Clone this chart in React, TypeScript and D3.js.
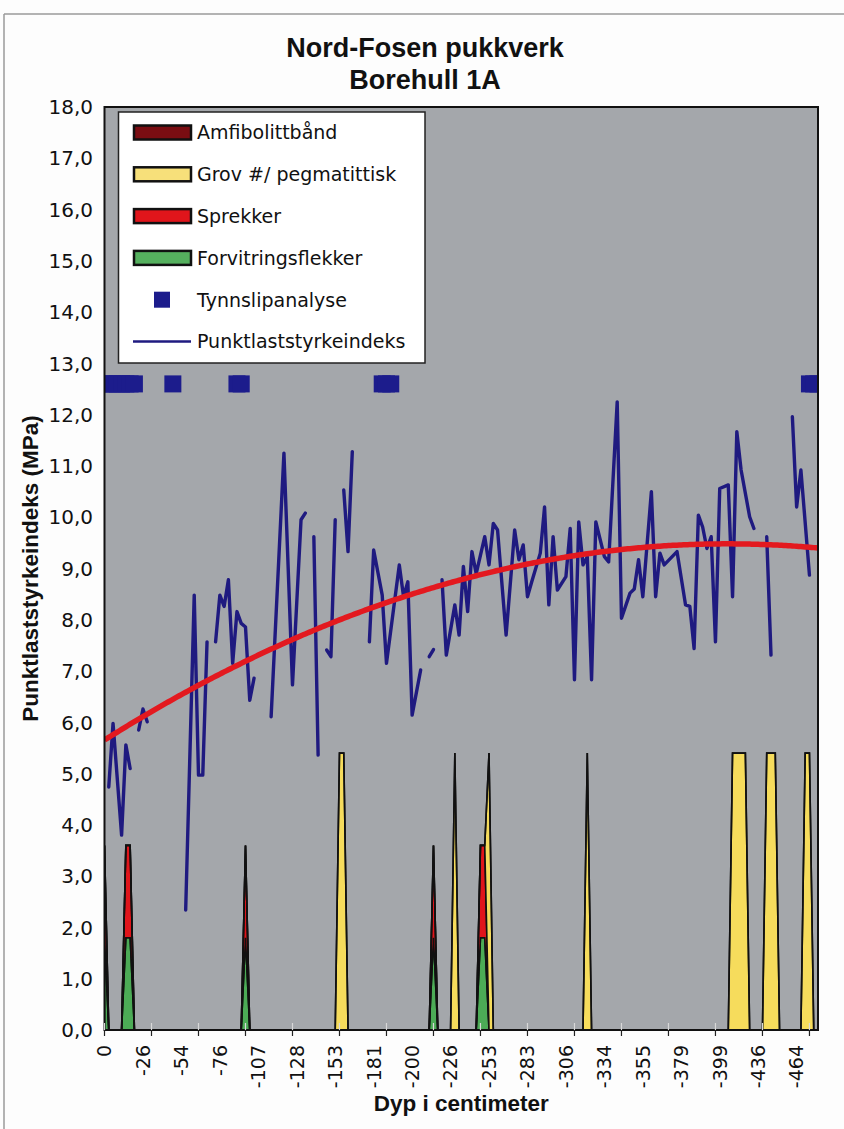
import React from "react";
import * as d3 from "d3";

// ---------- data ----------
const titleLines = ["Nord-Fosen pukkverk", "Borehull 1A"];
const yAxisTitle = "Punktlaststyrkeindeks (MPa)";
const xAxisTitle = "Dyp i centimeter";

const sampleCount = 168; // categories on the x axis
const depthLabels = ["0", "-26", "-54", "-76", "-107", "-128", "-153", "-181", "-200", "-226", "-253", "-283", "-306", "-334", "-355", "-379", "-399", "-436", "-464"];
const labelEvery = 9;
const tickEvery = 11;
const yTickValues = [0, 1, 2, 3, 4, 5, 6, 7, 8, 9, 10, 11, 12, 13, 14, 15, 16, 17, 18];

// stacked area series: [sample index, value]
const forvitringsflekker: [number, number][] = [[0, 1.8], [5, 1.8], [6, 1.8], [33, 1.8], [77, 1.8], [88, 1.8], [89, 1.8]];
const sprekker: [number, number][] = [[0, 1.8], [5, 1.8], [6, 1.8], [33, 1.8], [77, 1.8], [88, 1.8], [89, 1.8]];
const grovPegmatittisk: [number, number][] = [[55, 5.4], [56, 5.4], [82, 5.4], [90, 5.4], [113, 5.4], [147, 5.4], [148, 5.4], [149, 5.4], [150, 5.4], [155, 5.4], [156, 5.4], [157, 5.4], [164, 5.4], [165, 5.4]];
const amfibolittband: [number, number][] = [];

// thin-section markers
const tynnslipIdx = [0, 1, 2, 3, 4, 5, 6, 7, 16, 31, 32, 65, 66, 67, 165, 166, 167];
const tynnslipLevel = 12.6;

// point load strength index: [sample index, MPa], null = gap
const punktlast: ([number, number] | null)[] = [
  [1, 4.74], [2, 5.98], [4, 3.8], [5, 5.56], [6, 5.1], null,
  [8, 5.85], [9, 6.26], [10, 6.01], null,
  [19, 2.34], [21, 8.48], [22, 4.97], [23, 4.97], [24, 7.57], null,
  [26, 7.57], [27, 8.48], [28, 8.26], [29, 8.78], [30, 7.15], [31, 8.16], [32, 7.93], [33, 7.86], [34, 6.43], [35, 6.86], null,
  [39, 6.11], [42, 11.25], [44, 6.73], [46, 9.95], [47, 10.08], null,
  [49, 9.62], [50, 5.36], null,
  [52, 7.41], [53, 7.28], [54, 9.95], null,
  [56, 10.53], [57, 9.33], [58, 11.28], null,
  [62, 7.57], [63, 9.36], [65, 8.48], [66, 7.15], [69, 9.07], [70, 8.45], [71, 8.74], [72, 6.14], [74, 7.02], null,
  [76, 7.28], [77, 7.42], null,
  [79, 8.78], [80, 7.31], [82, 8.29], [83, 7.7], [84, 9.04], [85, 8.16], [86, 9.33], [87, 8.9], [89, 9.62], [90, 9.07],
  [91, 9.88], [92, 9.75], [94, 7.7], [96, 9.75], [97, 9.17], [98, 9.46], [99, 8.45], [100, 8.74], [102, 9.3], [103, 10.2],
  [104, 8.29], [105, 9.62], [106, 8.58], [108, 8.84], [109, 9.78], [110, 6.83], [111, 9.91], [112, 9.07], [113, 9.23], [114, 6.83],
  [115, 9.91], [117, 9.23], [118, 9.13], [120, 12.25], [121, 8.03], [123, 8.52], [124, 8.6], [125, 9.17], [126, 8.45], [128, 10.5],
  [129, 8.45], [130, 9.3], [131, 9.07], [134, 9.33], [136, 8.29], [137, 8.26], [138, 7.44], [139, 10.04], [140, 9.81], [141, 9.39],
  [142, 9.62], [143, 7.57], [144, 10.56], [146, 10.63], [147, 8.45], [148, 11.67], [149, 10.92], [151, 10.01], [152, 9.78], null,
  [155, 9.62], [156, 7.31], null,
  [161, 11.96], [162, 10.2], [163, 10.92], [165, 8.87],
];

const legendItems = [
  { label: "Amfibolittbånd", kind: "area", color: "#7a0d12" },
  { label: "Grov #/ pegmatittisk", kind: "area", color: "#f7e07a" },
  { label: "Sprekker", kind: "area", color: "#e0151b" },
  { label: "Forvitringsflekker", kind: "area", color: "#55b05e" },
  { label: "Tynnslipanalyse", kind: "marker", color: "#1c1c8c" },
  { label: "Punktlaststyrkeindeks", kind: "line", color: "#1f1a80" },
];

// ---------- helpers ----------
function quadFit(pts: [number, number][]) {
  // least squares y = a + b x + c x^2
  let s0 = 0, s1 = 0, s2 = 0, s3 = 0, s4 = 0, t0 = 0, t1 = 0, t2 = 0;
  for (const [x, y] of pts) {
    const x2 = x * x;
    s0 += 1; s1 += x; s2 += x2; s3 += x2 * x; s4 += x2 * x2;
    t0 += y; t1 += x * y; t2 += x2 * y;
  }
  const M = [[s0, s1, s2, t0], [s1, s2, s3, t1], [s2, s3, s4, t2]];
  for (let c = 0; c < 3; c++) {
    let p = c;
    for (let r = c + 1; r < 3; r++) if (Math.abs(M[r][c]) > Math.abs(M[p][c])) p = r;
    [M[c], M[p]] = [M[p], M[c]];
    for (let r = 0; r < 3; r++) {
      if (r === c) continue;
      const f = M[r][c] / M[c][c];
      for (let k = c; k < 4; k++) M[r][k] -= f * M[c][k];
    }
  }
  return [M[0][3] / M[0][0], M[1][3] / M[1][1], M[2][3] / M[2][2]];
}

export default function App() {
  const W = 844, H = 1129;
  const plot = { left: 104.5, right: 818, top: 107, bottom: 1030 };
  const x = d3.scaleLinear().domain([0, sampleCount - 1]).range([plot.left, plot.right]);
  const y = d3.scaleLinear().domain([0, 18]).range([plot.bottom, plot.top]);

  // stacked areas
  const keys = ["forv", "spr", "grov", "amf"];
  const src: Record<string, [number, number][]> = { forv: forvitringsflekker, spr: sprekker, grov: grovPegmatittisk, amf: amfibolittband };
  const rows = d3.range(sampleCount).map((i) => {
    const r: any = { i };
    for (const k of keys) r[k] = 0;
    return r;
  });
  for (const k of keys) for (const [i, v] of src[k]) rows[i][k] = v;
  const stacked = d3.stack<any>().keys(keys)(rows);
  const areaColors: Record<string, string> = { forv: "#4cab56", spr: "#e0151b", grov: "#f6dc5c", amf: "#7a0d12" };
  const areaGen = d3.area<d3.SeriesPoint<any>>()
    .x((d) => x(d.data.i))
    .y0((d) => y(d[0]))
    .y1((d) => y(d[1]));

  // line with gaps
  const segs: [number, number][][] = [];
  let cur: [number, number][] = [];
  for (const p of punktlast) {
    if (p === null) { if (cur.length) segs.push(cur); cur = []; } else cur.push(p);
  }
  if (cur.length) segs.push(cur);
  const lineGen = d3.line<[number, number]>().x((d) => x(d[0])).y((d) => y(d[1]));

  // polynomial trend (order 2) fitted to the data
  const pts = punktlast.filter((p): p is [number, number] => p !== null);
  const [a, b, c] = quadFit(pts);
  const trendPts: [number, number][] = d3.range(0, sampleCount - 1 + 0.001, 0.5).map((i) => [i, a + b * i + c * i * i]);

  const regularFont = "'DejaVu Sans', sans-serif";
  const boldFont = "'Liberation Sans', Arial, sans-serif";

  const legend = { x: 118.5, y: 112, w: 306.5, h: 251 };
  const rowY = (k: number) => 132.5 + k * 41.8;

  return (
    <svg width={W} height={H} style={{ position: "absolute", left: 0, top: 0, display: "block" }} xmlns="http://www.w3.org/2000/svg">
      <defs>
        <clipPath id="plotClip">
          <rect x={plot.left - 0.5} y={plot.top} width={plot.right - plot.left + 0.5} height={plot.bottom - plot.top} />
        </clipPath>
      </defs>
      <rect x={0} y={0} width={W} height={H} fill="#fdfdfd" />
      {/* chart frame */}
      <line x1={4} y1={14} x2={844} y2={14} stroke="#9a9a9a" strokeWidth={1.5} />
      <line x1={4} y1={14} x2={4} y2={H} stroke="#9a9a9a" strokeWidth={1.5} />

      {/* title */}
      {titleLines.map((t, k) => (
        <text key={k} x={425} y={57 + k * 32} textAnchor="middle" fontFamily={boldFont} fontWeight="bold" fontSize={27} fill="#111">{t}</text>
      ))}

      {/* plot background */}
      <rect x={plot.left} y={plot.top} width={plot.right - plot.left} height={plot.bottom - plot.top} fill="#a4a7ab" />

      <g clipPath="url(#plotClip)">
        {stacked.map((s) => (
          <path key={s.key} d={areaGen(s) || ""} fill={areaColors[s.key]} stroke="#111" strokeWidth={1.6} strokeLinejoin="miter" />
        ))}
        {tynnslipIdx.map((i) => (
          <rect key={"m" + i} x={x(i) - 8.5} y={y(tynnslipLevel) - 8.5} width={17} height={17} fill="#1c1c8c" />
        ))}
        {segs.map((s, k) => (
          <path key={"l" + k} d={lineGen(s) || ""} fill="none" stroke="#1f1a80" strokeWidth={3.4} strokeLinejoin="round" strokeLinecap="round" />
        ))}
        <path d={lineGen(trendPts) || ""} fill="none" stroke="#e3191f" strokeWidth={5.5} />
      </g>

      {/* plot border */}
      <rect x={plot.left} y={plot.top} width={plot.right - plot.left} height={plot.bottom - plot.top} fill="none" stroke="#111" strokeWidth={2} />

      {/* x ticks */}
      {d3.range(0, sampleCount, tickEvery).map((i) => (
        <g key={"t" + i}>
          <line x1={x(i)} x2={x(i)} y1={plot.bottom - 7} y2={plot.bottom} stroke="#d8d8d8" strokeWidth={1.2} />
          <line x1={x(i)} x2={x(i)} y1={plot.bottom} y2={plot.bottom + 6} stroke="#222" strokeWidth={1.2} />
        </g>
      ))}
      {/* x labels */}
      {depthLabels.map((l, k) => {
        const px = x(k * labelEvery);
        return (
          <text key={"xl" + k} transform={`translate(${px},1045) rotate(-90)`} textAnchor="end" dy="0.36em"
            fontFamily={regularFont} fontSize={19} fill="#111">{l}</text>
        );
      })}
      {/* y labels */}
      {yTickValues.map((v) => (
        <text key={"yl" + v} x={93} y={y(v)} dy="0.36em" textAnchor="end" fontFamily={regularFont} fontSize={20} fill="#111">
          {d3.format(".1f")(v).replace(".", ",")}
        </text>
      ))}

      {/* axis titles */}
      <text x={(plot.left + plot.right) / 2} y={1111} textAnchor="middle" fontFamily={boldFont} fontWeight="bold" fontSize={22.5} fill="#111">{xAxisTitle}</text>
      <text transform={`translate(38,${(plot.top + plot.bottom) / 2}) rotate(-90)`} textAnchor="middle" fontFamily={boldFont} fontWeight="bold" fontSize={22.5} fill="#111">{yAxisTitle}</text>

      {/* legend */}
      <rect x={legend.x} y={legend.y} width={legend.w} height={legend.h} fill="#fff" stroke="#222" strokeWidth={1.5} />
      {legendItems.map((it, k) => {
        const cy = rowY(k);
        return (
          <g key={"lg" + k}>
            {it.kind === "area" && (
              <rect x={134} y={cy - 7} width={57} height={14} fill={it.color} stroke="#111" strokeWidth={2.5} />
            )}
            {it.kind === "marker" && (
              <rect x={154} y={cy - 8} width={16} height={16} fill={it.color} />
            )}
            {it.kind === "line" && (
              <line x1={133} x2={191} y1={cy} y2={cy} stroke={it.color} strokeWidth={2.5} />
            )}
            <text x={197} y={cy} dy="0.36em" fontFamily={regularFont} fontSize={19} fill="#111">{it.label}</text>
          </g>
        );
      })}
    </svg>
  );
}
